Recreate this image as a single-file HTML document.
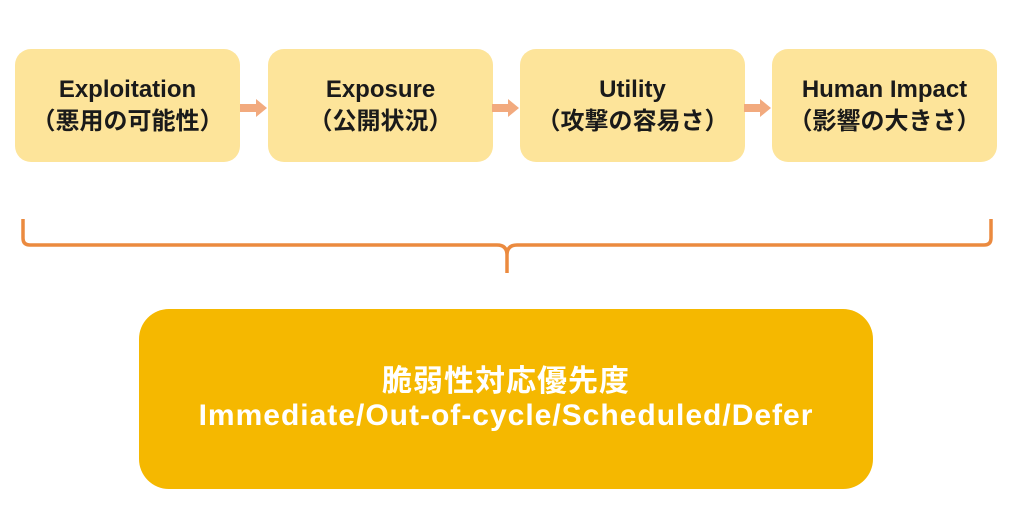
<!DOCTYPE html>
<html><head><meta charset="utf-8"><style>
body{margin:0;width:1017px;height:506px;background:#fff;position:relative;overflow:hidden;font-family:"Liberation Sans","Noto Sans CJK JP",sans-serif}
.b{position:absolute;top:49px;width:225px;height:113px;background:#fde49a;border-radius:16px;display:flex;flex-direction:column;justify-content:center;align-items:center;font-weight:bold;font-size:24px;line-height:32px;color:#1a1a1a}
.big{position:absolute;left:139px;top:309px;width:734px;height:180px;background:#f5b800;border-radius:30px;display:flex;flex-direction:column;justify-content:center;align-items:center;color:#fff;font-weight:bold;font-size:30px;line-height:34px;letter-spacing:1px}
</style></head><body>
<div class="b" style="left:15px"><div>Exploitation</div><div>（悪用の可能性）</div></div>
<div class="b" style="left:268px"><div>Exposure</div><div>（公開状況）</div></div>
<div class="b" style="left:520px"><div>Utility</div><div>（攻撃の容易さ）</div></div>
<div class="b" style="left:772px"><div>Human Impact</div><div>（影響の大きさ）</div></div>
<svg width="1017" height="506" style="position:absolute;left:0;top:0">
<g fill="#f2aa7e">
<rect x="240" y="104" width="16" height="8"/><polygon points="256,99 267,108 256,117"/>
<rect x="492" y="104" width="16" height="8"/><polygon points="508,99 519,108 508,117"/>
<rect x="744" y="104" width="16" height="8"/><polygon points="760,99 771,108 760,117"/>
</g>
<path d="M23 219 V238 Q23 245 30 245 H497 Q507 245 507 255 V273 M507 255 Q507 245 517 245 H984 Q991 245 991 238 V219" fill="none" stroke="#eb8a3f" stroke-width="3.5"/>
</svg>
<div class="big"><div>脆弱性対応優先度</div><div>Immediate/Out-of-cycle/Scheduled/Defer</div></div>
</body></html>
